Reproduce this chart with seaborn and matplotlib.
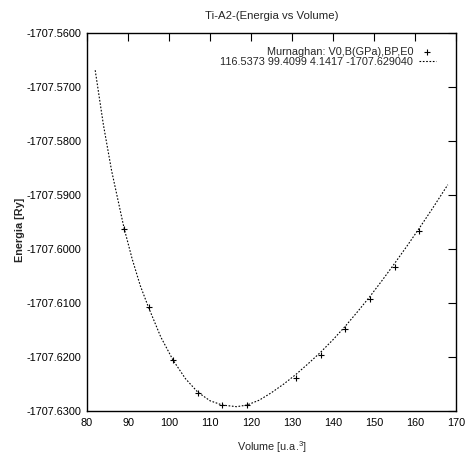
import matplotlib
matplotlib.use("Agg")
import matplotlib.pyplot as plt
from matplotlib import font_manager
from matplotlib.ticker import FormatStrFormatter, MultipleLocator
import seaborn as sns
import pandas as pd

# Data points (volume, energy)
volume = [89, 95, 101, 107, 113, 119, 131, 137, 143, 149, 155, 161]
energy = [-1707.5963, -1707.6108, -1707.6206, -1707.6266, -1707.6289, -1707.6289,
          -1707.6238, -1707.6196, -1707.6149, -1707.6093, -1707.6033, -1707.5967]

# Fitted Murnaghan curve
fit_volume = [82, 84, 86, 88, 89, 91, 93, 95, 98, 101, 104, 107, 110, 113, 116.5,
              119, 122, 125, 128, 131, 134, 137, 140, 143, 146, 149, 152, 155,
              158, 161, 164, 168]
fit_energy = [-1707.5669, -1707.5770, -1707.5855, -1707.5925, -1707.5960, -1707.6018,
              -1707.6068, -1707.6108, -1707.6163, -1707.6206, -1707.6240, -1707.6265,
              -1707.6281, -1707.6289, -1707.6292, -1707.6289, -1707.6280, -1707.6266,
              -1707.6250, -1707.6232, -1707.6212, -1707.6191, -1707.6168, -1707.6143,
              -1707.6116, -1707.6088, -1707.6058, -1707.6027, -1707.5995, -1707.5962,
              -1707.5928, -1707.5881]

title = "Ti-A2-(Energia vs Volume)"
label_points = "Murnaghan: V0,B(GPa),BP,E0"
label_fit = "116.5373 99.4099 4.1417 -1707.629040"
xlabel = "Volume [u.a.$^3$]"
ylabel = "Energia [Ry]"

sns.set_theme(style="white")
names = {f.name for f in font_manager.fontManager.ttflist}
fams = [f for f in ["Liberation Sans Narrow", "Liberation Sans", "DejaVu Sans"] if f in names]
plt.rcParams["font.family"] = fams
plt.rcParams["axes.unicode_minus"] = False
plt.rcParams["mathtext.fontset"] = "custom"
plt.rcParams["mathtext.rm"] = fams[0]

FS = 7.8

fig = plt.figure(figsize=(4.68, 4.58), dpi=100, facecolor="white")
ax = fig.add_axes([87/468, 1-411/458, (456-87)/468, (411-33)/458])
ax.set_facecolor("white")

df_pts = pd.DataFrame({"V": volume, "E": energy})
df_fit = pd.DataFrame({"V": fit_volume, "E": fit_energy})

sns.scatterplot(data=df_pts, x="V", y="E", marker="+", color="black", s=22,
                linewidth=0.8, label=label_points, ax=ax, zorder=3)
sns.lineplot(data=df_fit, x="V", y="E", color="black", linewidth=0.8,
             linestyle=(0, (1.5, 1.5)), label=label_fit, ax=ax, sort=False)

ax.set_xlim(80, 170)
ax.set_ylim(-1707.63, -1707.56)
ax.xaxis.set_major_locator(MultipleLocator(10))
ax.yaxis.set_major_locator(MultipleLocator(0.01))
ax.yaxis.set_major_formatter(FormatStrFormatter("%.4f"))
ax.tick_params(direction="in", length=6, width=0.8, top=True, right=True,
               labelsize=FS, colors="black", pad=4)
ax.tick_params(axis="x", pad=5)
for s in ax.spines.values():
    s.set_color("black")
    s.set_linewidth(1.0)

ax.set_title(title, fontsize=8.2, pad=10)
ax.set_xlabel(xlabel, fontsize=FS)
ax.xaxis.set_label_coords(0.5, -(447 - 411) / 378, transform=ax.transAxes)
ax.xaxis.label.set_va("center")
ax.set_ylabel(ylabel, fontsize=FS, fontweight="bold")
ax.yaxis.set_label_coords(-(87 - 20) / 369, 0.48, transform=ax.transAxes)
ax.yaxis.label.set_va("center")

leg = ax.legend(loc="upper right", frameon=False, markerfirst=False, fontsize=FS,
                handlelength=1.6, handletextpad=0.5, borderaxespad=0, borderpad=0,
                labelspacing=0.0, alignment="right",
                bbox_to_anchor=((436 - 87) / 369, (411 - 47) / 378))

fig.savefig("out.png", dpi=100, facecolor="white")
